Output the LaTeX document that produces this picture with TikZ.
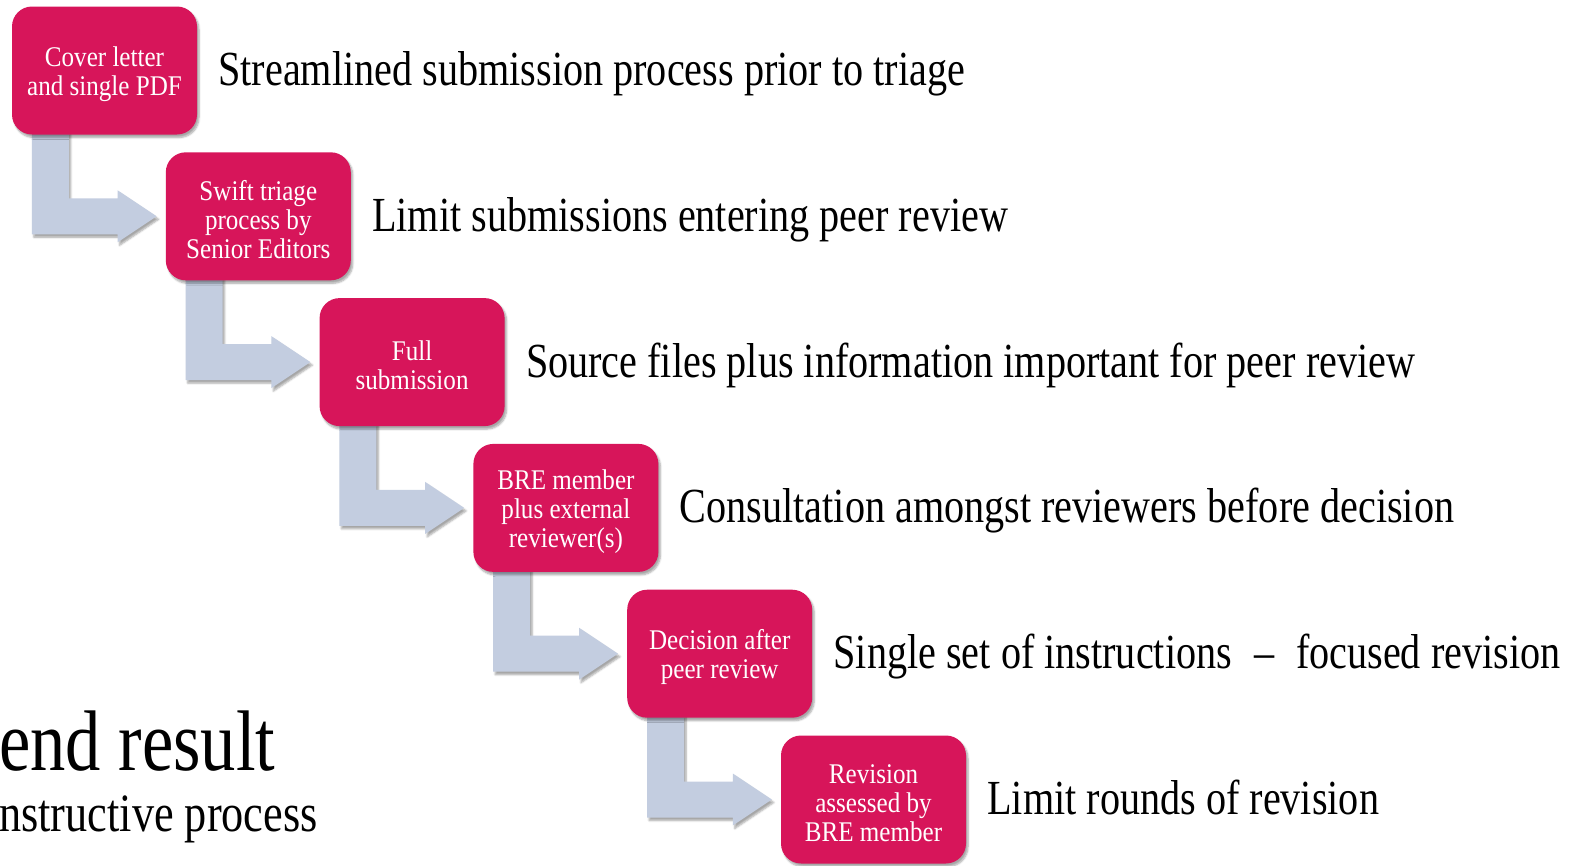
\documentclass[tikz,border=0pt]{standalone}
\usepackage{fontspec}
\setmainfont{Liberation Serif}
\newfontfamily\lblfont[FakeStretch=0.82]{Liberation Serif}
\newfontfamily\inboxfont[FakeStretch=0.88]{Liberation Serif}
\usetikzlibrary{calc,shadows.blur}
\pgfdeclarelayer{bg}
\pgfsetlayers{bg,main}
\definecolor{boxred}{RGB}{215,21,90}
\definecolor{arrowc}{RGB}{195,205,224}
\newcommand{\topstrut}{\rule{0pt}{27pt}}
\tikzset{
  stepbox/.style={fill=boxred, text=white, rounded corners=20pt, minimum width=185pt, minimum height=128pt,
    inner sep=0pt, align=center, font=\inboxfont\fontsize{28.5}{29}\selectfont,
    blur shadow={shadow xshift=2pt, shadow yshift=-3pt, shadow blur steps=6, shadow opacity=35}},
  lbl/.style={anchor=base west, inner sep=0pt, font=\lblfont\fontsize{49}{55}\selectfont},
  bentarrow/.style={fill=arrowc, blur shadow={shadow xshift=2pt, shadow yshift=-3pt, shadow blur steps=6, shadow opacity=35}},
  heading/.style={anchor=base west, inner sep=0pt}
}
\begin{document}
\begin{tikzpicture}[x=1pt,y=-1pt]
\useasboundingbox (0,0) rectangle (1579,865);
\node[stepbox] (b1) at (104.5,70.5) {\topstrut Cover letter\\and single PDF};
\node[stepbox] (b2) at (258.3,216.3) {\topstrut Swift triage\\process by\\Senior Editors};
\node[stepbox] (b3) at (412.1,362.1) {\topstrut Full\\submission};
\node[stepbox] (b4) at (565.9,507.9) {\topstrut BRE member\\plus external\\reviewer(s)};
\node[stepbox] (b5) at (719.7,653.7) {\topstrut Decision after\\peer review};
\node[stepbox] (b6) at (873.5,799.5) {\topstrut Revision\\assessed by\\BRE member};
\begin{pgfonlayer}{bg}
\foreach \a/\b in {b1/b2,b2/b3,b3/b4,b4/b5,b5/b6}{
  \fill[bentarrow] let \p1=(\a.south west), \p2=(\b.west) in
    (\x1+20pt,\y1+4pt) -- (\x1+57pt,\y1+4pt) -- (\x1+57pt,\y2+18pt) -- (\x2-48pt,\y2+18pt)
    -- (\x2-48pt,\y2+26pt) -- (\x2-9pt,\y2) -- (\x2-48pt,\y2-26pt) -- (\x2-48pt,\y2-18pt)
    -- (\x1+20pt,\y2-18pt) -- cycle;
}
\end{pgfonlayer}
\node[lbl] (l1) at ($(b1.east)+(21,15)$) {Streamlined submission process prior to triage};
\node[lbl] (l2) at ($(b2.east)+(21,15)$) {Limit submissions entering peer review};
\node[lbl] (l3) at ($(b3.east)+(21,15)$) {Source files plus information important for peer review};
\node[lbl] (l4) at ($(b4.east)+(21,15)$) {Consultation amongst reviewers before decision};
\node[lbl] (l5) at ($(b5.east)+(21,15)$) {Single set of instructions\hspace{22pt}–\hspace{22pt}focused revision};
\node[lbl] (l6) at ($(b6.east)+(21,15)$) {Limit rounds of revision};
\node[heading, font=\lblfont\fontsize{86}{90}\selectfont] (h1) at (-1,770) {end result};
\node[heading, font=\lblfont\fontsize{54}{60}\selectfont] (h2) at (-1,831) {nstructive process};
\end{tikzpicture}
\end{document}
